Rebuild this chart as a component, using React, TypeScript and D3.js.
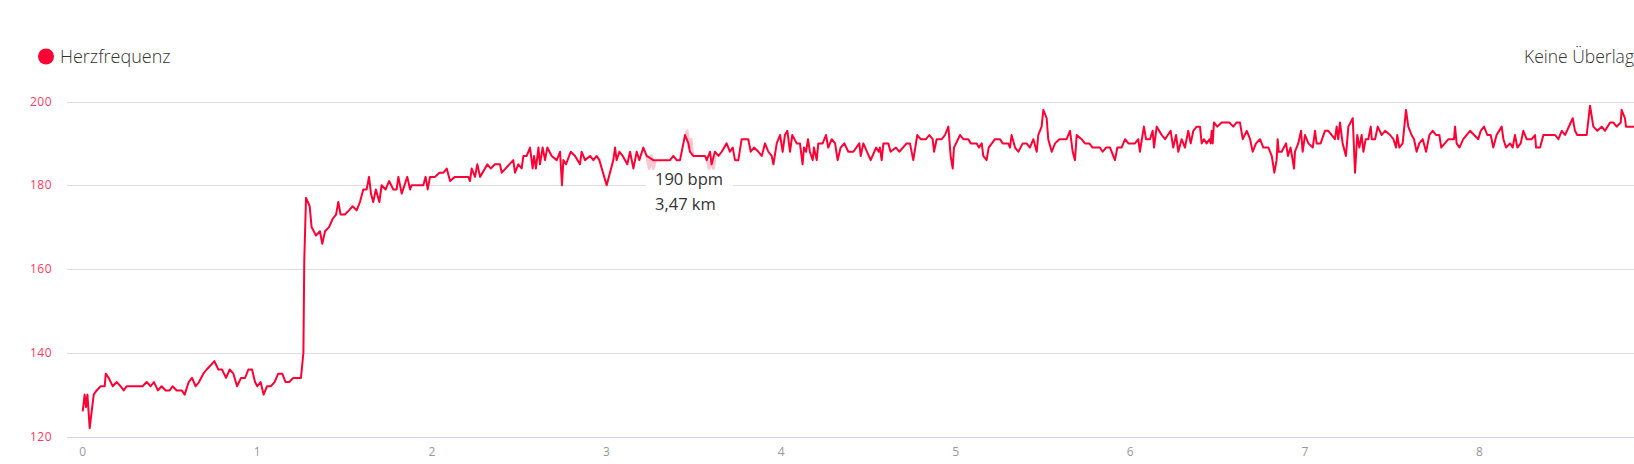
import React from "react";
import * as d3 from "d3";

// distance (km) of each heart-rate sample
const distanceKm: number[] = [
  0.000, 0.011, 0.019, 0.027, 0.040, 0.063, 0.080, 0.103, 0.126, 0.132, 0.149, 0.172, 0.195, 0.217, 0.235, 0.252,
  0.343, 0.366, 0.389, 0.408, 0.431, 0.452, 0.475, 0.498, 0.515, 0.538, 0.567, 0.584, 0.607, 0.626, 0.647, 0.666,
  0.691, 0.710, 0.733, 0.754, 0.777, 0.798, 0.821, 0.842, 0.863, 0.884, 0.907, 0.930, 0.949, 0.970, 0.987, 1.000,
  1.019, 1.036, 1.056, 1.077, 1.099, 1.120, 1.143, 1.162, 1.183, 1.206, 1.227, 1.250, 1.264, 1.269, 1.279, 1.300,
  1.311, 1.336, 1.359, 1.372, 1.388, 1.411, 1.432, 1.451, 1.464, 1.477, 1.502, 1.525, 1.546, 1.569, 1.588, 1.607,
  1.626, 1.640, 1.651, 1.664, 1.679, 1.699, 1.712, 1.735, 1.755, 1.779, 1.798, 1.808,
  1.827, 1.859, 1.875, 1.884, 1.932, 1.951, 1.964, 1.976, 1.989, 2.018, 2.043, 2.066, 2.085, 2.104, 2.132, 2.209,
  2.218, 2.228, 2.247, 2.260, 2.276, 2.318, 2.337, 2.361, 2.390, 2.400, 2.466, 2.476, 2.495, 2.514, 2.524, 2.543,
  2.562, 2.577, 2.585, 2.596, 2.610, 2.619, 2.634, 2.648, 2.661, 2.686, 2.715, 2.734, 2.745, 2.753, 2.768, 2.795,
  2.820, 2.848, 2.858, 2.877, 2.906, 2.925, 2.944, 2.959, 3.001, 3.039, 3.049, 3.058, 3.074, 3.093, 3.119, 3.135,
  3.154, 3.173, 3.188, 3.211, 3.230, 3.268, 3.297, 3.325, 3.364, 3.383, 3.402, 3.421, 3.450, 3.469, 3.478, 3.497,
  3.535, 3.564, 3.574, 3.593, 3.602, 3.621, 3.641, 3.660, 3.688, 3.707, 3.723, 3.736, 3.755, 3.774, 3.812, 3.826,
  3.845, 3.870, 3.889, 3.908, 3.927, 3.946, 3.956, 3.975, 3.994, 4.009, 4.022, 4.036, 4.051, 4.064, 4.089,
  4.108, 4.123, 4.131, 4.143, 4.154, 4.165, 4.181, 4.188, 4.204, 4.213, 4.238, 4.257, 4.270, 4.290, 4.309, 4.324,
  4.341, 4.362, 4.385, 4.414, 4.448, 4.456, 4.471, 4.513, 4.544, 4.559, 4.566, 4.576, 4.586, 4.614, 4.627, 4.658,
  4.677, 4.719, 4.738, 4.757, 4.780, 4.799, 4.830, 4.849, 4.868, 4.876, 4.891, 4.920, 4.939, 4.958, 4.971, 4.983,
  4.990, 5.025, 5.044, 5.072, 5.086, 5.120, 5.133, 5.149, 5.158, 5.177, 5.189, 5.225, 5.254, 5.269, 5.301, 5.311,
  5.320, 5.340, 5.359, 5.384, 5.406, 5.425, 5.445, 5.464, 5.473, 5.492, 5.502, 5.521, 5.530, 5.550, 5.569, 5.594,
  5.635, 5.655, 5.670, 5.683, 5.693, 5.721, 5.740, 5.765, 5.784, 5.826, 5.842, 5.861, 5.884, 5.912, 5.926, 5.950,
  5.970, 5.989, 6.027, 6.046, 6.055, 6.078, 6.090, 6.113, 6.128, 6.136, 6.151, 6.180, 6.199, 6.231, 6.246, 6.262,
  6.275, 6.294, 6.313, 6.332, 6.346, 6.361, 6.380,
  6.399, 6.409, 6.422, 6.437, 6.453, 6.460, 6.466, 6.472, 6.479, 6.498, 6.523, 6.567, 6.590, 6.609, 6.628, 6.644,
  6.667, 6.686, 6.701, 6.720, 6.743, 6.762, 6.791, 6.810, 6.825, 6.838, 6.844, 6.850, 6.867, 6.892, 6.903, 6.918,
  6.938, 6.943, 6.962, 6.978, 6.987, 7.001, 7.020, 7.045, 7.058, 7.067, 7.090, 7.115, 7.134, 7.172, 7.182, 7.191,
  7.201, 7.216, 7.235, 7.249, 7.274, 7.287, 7.300, 7.312, 7.325, 7.335, 7.348, 7.363, 7.377, 7.383, 7.402, 7.417,
  7.440, 7.459, 7.488, 7.507, 7.522, 7.529, 7.541, 7.560, 7.579, 7.592, 7.611, 7.625, 7.640, 7.655, 7.675, 7.694,
  7.713, 7.732, 7.751, 7.770, 7.781, 7.822, 7.854, 7.860, 7.869, 7.885, 7.907, 7.946, 7.993, 8.007, 8.026, 8.045,
  8.064, 8.079, 8.098, 8.127, 8.137, 8.152, 8.175, 8.190, 8.203, 8.217, 8.236, 8.251, 8.270, 8.299, 8.318, 8.324,
  8.347, 8.366, 8.433, 8.452, 8.471, 8.490, 8.534, 8.547, 8.560, 8.614, 8.633, 8.652, 8.675, 8.700, 8.719, 8.748,
  8.766, 8.786, 8.809, 8.814, 8.833, 8.839, 8.885,
];

// heart rate (bpm) at each sample
const heartRate: number[] = [
  126, 130, 127, 130, 122, 130, 131, 132, 132, 135, 134, 132, 133, 132, 131, 132,
  132, 133, 132, 133, 131, 132, 131, 131, 132, 131, 131, 130, 133, 134, 132, 133,
  135, 136, 137, 138, 136, 136, 134, 136, 135, 132, 134, 134, 136, 136, 133, 132,
  133, 130, 132, 132, 133, 135, 135, 133, 133, 134, 134, 134, 140, 162, 177, 175,
  170, 168, 169, 166, 169, 170, 172, 173, 176, 173, 173, 174, 175, 174, 176, 179,
  179, 182, 178, 176, 179, 176, 180, 179, 181, 179, 179, 182,
  178, 182, 179, 180, 180, 180, 182, 179, 182, 182, 183, 183, 184, 181, 182, 182,
  181, 184, 182, 185, 182, 185, 184, 185, 185, 183, 186, 183, 185, 184, 187, 187,
  189, 184, 187, 184, 189, 185, 189, 186, 189, 187, 186, 188, 180, 186, 185, 188,
  187, 185, 188, 186, 187, 186, 187, 186, 180, 186, 189, 186, 188, 187, 185, 188,
  184, 188, 186, 189, 187, 186, 186, 186, 186, 187, 186, 186, 192, 190, 188, 187,
  187, 187, 186, 188, 185, 188, 187, 188, 190, 188, 189, 186, 186, 191, 191, 188,
  189, 188, 187, 190, 188, 187, 185, 190, 192, 188, 192, 193, 188, 192, 190,
  190, 185, 189, 188, 191, 188, 186, 189, 186, 190, 190, 192, 189, 191, 190, 186,
  189, 190, 188, 188, 190, 187, 190, 186, 189, 188, 189, 186, 190, 190, 188, 189,
  188, 190, 190, 186, 192, 191, 191, 192, 191, 188, 191, 191, 192, 194, 187, 184,
  189, 192, 191, 191, 190, 190, 189, 190, 187, 186, 189, 191, 191, 190, 190, 189,
  192, 189, 188, 190, 190, 189, 191, 188, 192, 194, 198, 196, 191, 188, 190, 191,
  191, 193, 188, 186, 192, 191, 190, 190, 189, 189, 188, 189, 189, 186, 189, 189,
  191, 190, 190, 191, 188, 194, 191, 191, 193, 189, 194, 192, 191, 193, 189, 192,
  188, 191, 189, 193, 190, 193, 194,
  194, 190, 191, 190, 191, 190, 193, 190, 195, 194, 195, 195, 194, 195, 195, 191,
  193, 191, 188, 190, 191, 189, 189, 187, 183, 186, 191, 188, 188, 190, 187, 189,
  184, 188, 190, 193, 188, 192, 190, 189, 193, 190, 190, 193, 193, 191, 194, 191,
  195, 190, 187, 194, 196, 183, 192, 189, 192, 188, 191, 191, 194, 191, 191, 194,
  192, 193, 192, 191, 189, 192, 189, 190, 198, 194, 192, 191, 188, 190, 191, 188,
  192, 193, 192, 192, 189, 191, 191, 194, 190, 189, 191, 193, 191, 193, 194, 192,
  192, 189, 192, 194, 191, 189, 190, 189, 192, 189, 190, 193, 191, 191, 192, 189,
  189, 192, 192, 191, 193, 192, 196, 193, 192, 192, 199, 194, 193, 194, 193, 195,
  195, 194, 195, 198, 196, 194, 194,
];

// faint, fading trace visible behind the hovered stretch
const ghostKm: number[] = [3.230, 3.245, 3.258, 3.268, 3.280];
const ghostHr: number[] = [187, 184, 187, 184, 186];
const ghostKm2: number[] = [3.450, 3.462, 3.474, 3.484, 3.494];
const ghostHr2: number[] = [191, 193, 189, 191, 187];
const ghostKm3: number[] = [3.576, 3.588, 3.600, 3.612, 3.622];
const ghostHr3: number[] = [186, 184, 186, 184, 187];

const yTicks: number[] = [120, 140, 160, 180, 200];
const xTicks: number[] = [0, 1, 2, 3, 4, 5, 6, 7, 8];

const seriesName = "Herzfrequenz";
const overlayLabel = "Keine Überlagerung";
const tooltipLines: string[] = ["190 bpm", "3,47 km"];

const W = 1634;
const H = 464;
const RED = "#ff0035";
const FONT = "'Open Sans', 'Noto Sans', sans-serif";

export default function App() {
  const x = d3.scaleLinear().domain([0, 8]).range([82.7, 82.7 + 8 * 174.6]);
  const y = d3.scaleLinear().domain([120, 200]).range([436.5, 101.5]);

  const pts: [number, number][] = distanceKm.map((d, i) => [d, heartRate[i]]);
  const line = d3
    .line<[number, number]>()
    .x((d) => x(d[0]))
    .y((d) => y(d[1]));

  const ghosts: [number, number][][] = [
    ghostKm.map((d, i) => [d, ghostHr[i]]),
    ghostKm2.map((d, i) => [d, ghostHr2[i]]),
    ghostKm3.map((d, i) => [d, ghostHr3[i]]),
  ];

  return (
    <svg
      width={W}
      height={H}
      style={{ position: "absolute", left: 0, top: 0, background: "#fff" }}
      fontFamily={FONT}
    >
      {/* legend */}
      <circle cx={46} cy={56.5} r={8} fill={RED} />
      <text x={60} y={63} fontSize={18} fontWeight={300} fill="#333">
        {seriesName}
      </text>
      <text x={1524} y={63} fontSize={17.5} fontWeight={300} fill="#333">
        {overlayLabel}
      </text>

      {/* grid */}
      {yTicks.map((t) => (
        <g key={t}>
          <line
            x1={67}
            x2={W}
            y1={Math.round(y(t)) + 0.5}
            y2={Math.round(y(t)) + 0.5}
            stroke={t === 120 ? "#ccd6eb" : "#dedede"}
            strokeWidth={1}
          />
          <text
            x={52}
            y={y(t) + 4}
            textAnchor="end"
            fontSize={12}
            letterSpacing={0.5}
            fill="#ff3a60"
          >
            {t}
          </text>
        </g>
      ))}

      {xTicks.map((t) => (
        <text key={t} x={x(t)} y={456} textAnchor="middle" fontSize={12} fill="#999">
          {t}
        </text>
      ))}

      {/* faint trace */}
      {ghosts.map((g, i) => (
        <path key={i} d={line(g) || ""} fill="none" stroke="#ffc6d2" strokeWidth={3} strokeLinejoin="round" />
      ))}

      {/* series */}
      <path d={line(pts) || ""} fill="none" stroke={RED} strokeWidth={2} strokeLinejoin="round" />

      {/* tooltip */}
      <rect x={646} y={171} width={87} height={50} fill="#fff" />
      {tooltipLines.map((s, i) => (
        <text key={s} x={655} y={185 + i * 25} fontSize={16.5} fill="#333">
          {s}
        </text>
      ))}
    </svg>
  );
}
